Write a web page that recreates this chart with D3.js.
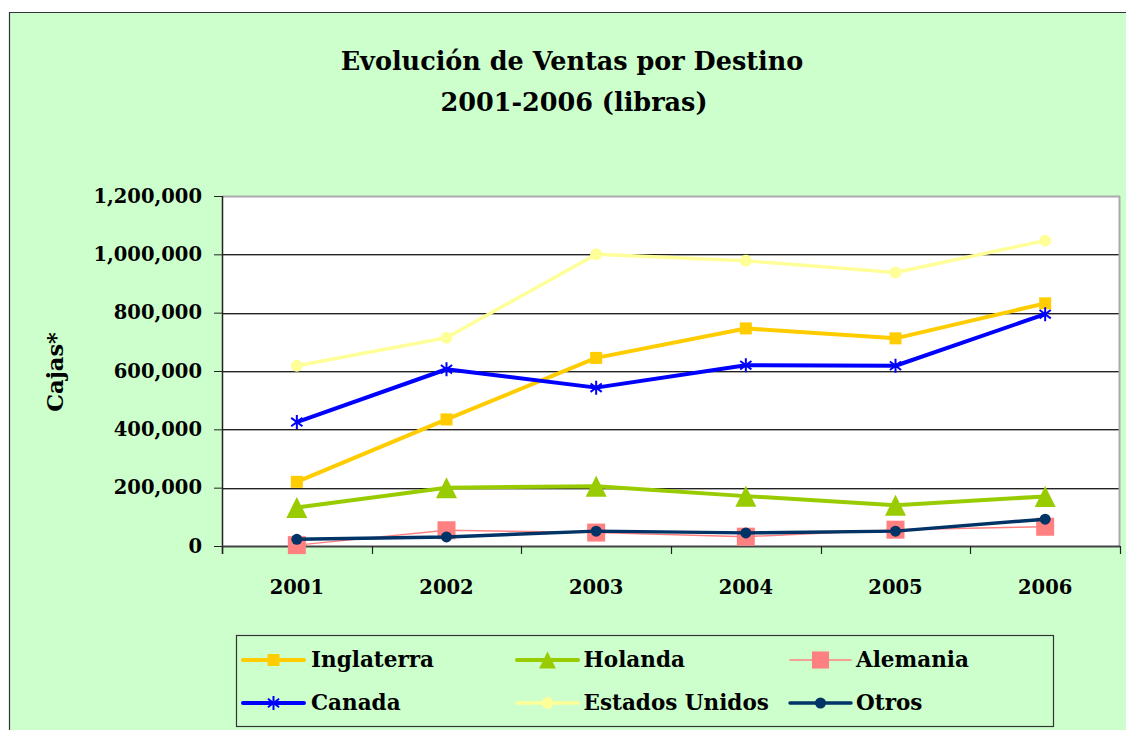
<!DOCTYPE html>
<html><head><meta charset="utf-8">
<script src="https://cdn.jsdelivr.net/npm/d3@7"></script>
<style>
html,body{margin:0;padding:0;background:#fff;overflow:hidden;}
svg{display:block;}
text{font-family:"DejaVu Serif",serif;font-weight:bold;fill:#000;}
</style></head>
<body>
<svg id="chart" width="1126" height="730"></svg>
<script>
const years = ["2001","2002","2003","2004","2005","2006"];
const yTicks = [0,200000,400000,600000,800000,1000000,1200000];
const seriesNames = ["Inglaterra","Holanda","Alemania","Canada","Estados Unidos","Otros"];
const inglaterra = [220000,434000,645000,746000,712000,832000];
const holanda = [132000,200000,205000,171000,140000,170000];
const alemania = [3000,54000,46000,32000,56000,66000];
const canada = [425000,606000,543000,620000,618000,795000];
const estadosUnidos = [618000,714000,1000000,978000,938000,1047000];
const otros = [23000,31000,51000,45000,51000,92000];
const titleLines = ["Evolución de Ventas por Destino","2001-2006 (libras)"];

const series = [
  {name:seriesNames[0], values:inglaterra, color:"#FFCC00", width:4, marker:"square", size:12, mcolor:"#FFCC00"},
  {name:seriesNames[1], values:holanda, color:"#99CC00", width:4, marker:"triangle", size:21, mcolor:"#99CC00"},
  {name:seriesNames[2], values:alemania, color:"#FF8080", width:1.5, marker:"square", size:18, mcolor:"#FF8080"},
  {name:seriesNames[3], values:canada, color:"#0000FF", width:4, marker:"asterisk", size:14, mcolor:"#0000FF"},
  {name:seriesNames[4], values:estadosUnidos, color:"#FFFF99", width:3.5, marker:"circle", size:12, mcolor:"#FFFF99"},
  {name:seriesNames[5], values:otros, color:"#003366", width:3.5, marker:"circle", size:11, mcolor:"#003366"}
];

const svg = d3.select("#chart");
// outer chart area (border only visible on top and left)
svg.append("rect").attr("x",9.5).attr("y",12.5).attr("width",1126).attr("height",730).attr("fill","#CCFFCC");
svg.append("path").attr("d","M9.5,730V12.5H1126").attr("fill","none").attr("stroke","#333").attr("stroke-width",1.2);

const L=222, R=1120, T=196, B=546;
const x = d3.scaleBand().domain(years).range([L,R]).padding(0);
const y = d3.scaleLinear().domain([0,1200000]).range([B,T]);
const cx = d => x(d)+x.bandwidth()/2;

// plot area
svg.append("rect").attr("x",L).attr("y",T).attr("width",R-L).attr("height",B-T).attr("fill","#fff");
// gridlines
const g = svg.append("g");
yTicks.filter(v=>v>0 && v<1200000).forEach(v=>{
  g.append("line").attr("x1",L).attr("x2",R).attr("y1",Math.round(y(v))+0.5).attr("y2",Math.round(y(v))+0.5).attr("stroke","#222").attr("stroke-width",1);
  g.append("line").attr("x1",L).attr("x2",R).attr("y1",Math.round(y(v))+1.5).attr("y2",Math.round(y(v))+1.5).attr("stroke","#aaa").attr("stroke-width",1);
});
// top and right borders
g.append("line").attr("x1",L).attr("x2",R).attr("y1",T+0.5).attr("y2",T+0.5).attr("stroke","#aaa").attr("stroke-width",2);
g.append("line").attr("x1",R-0.5).attr("x2",R-0.5).attr("y1",T).attr("y2",B).attr("stroke","#aaa").attr("stroke-width",2);

// axes
const yAxis = d3.axisLeft(y).tickValues(yTicks).tickFormat(d3.format(",")).tickSize(8).tickPadding(12);
const ya = svg.append("g").attr("transform",`translate(${L},0)`).call(yAxis);
ya.select(".domain").attr("stroke","#222").attr("stroke-width",1.5).attr("d",`M0.5,${T}V${B+8}`);
ya.selectAll(".tick line").attr("stroke","#222");
ya.selectAll("text").style("font-size","19.5px").attr("fill","#000").attr("font-family",null);

const xAxis = d3.axisBottom(x).tickSize(0).tickPadding(34);
const xa = svg.append("g").attr("transform",`translate(0,${B})`).call(xAxis);
xa.select(".domain").attr("stroke","#444").attr("stroke-width",2).attr("d",`M${L},0.5H${R}`);
xa.selectAll("text").style("font-size","19.5px").attr("fill","#000");
// x ticks at band boundaries
years.concat(["end"]).forEach((d,i)=>{
  const xx = i<years.length ? x(d) : R;
  svg.append("line").attr("x1",Math.round(xx)+0.5).attr("x2",Math.round(xx)+0.5).attr("y1",B).attr("y2",B+8).attr("stroke","#222").attr("stroke-width",1.2);
});

// axis title
svg.append("text").attr("transform","translate(63,372) rotate(-90)").attr("text-anchor","middle")
  .style("font-size","22.5px").text("Cajas*");

// title
svg.append("text").attr("x",572).attr("y",70).attr("text-anchor","middle").style("font-size","25.5px").text(titleLines[0]);
svg.append("text").attr("x",574).attr("y",111).attr("text-anchor","middle").style("font-size","25.5px").text(titleLines[1]);

function drawMarker(sel, s, px, py, scale){
  const sz = s.size*(scale||1);
  if(s.marker==="square"){
    sel.append("rect").attr("x",px-sz/2).attr("y",py-sz/2).attr("width",sz).attr("height",sz).attr("fill",s.mcolor);
  } else if(s.marker==="triangle"){
    const h=sz;
    sel.append("path").attr("d",`M${px},${py-h/2}L${px+sz/2},${py+h/2}L${px-sz/2},${py+h/2}Z`).attr("fill",s.mcolor);
  } else if(s.marker==="circle"){
    sel.append("circle").attr("cx",px).attr("cy",py).attr("r",sz/2).attr("fill",s.mcolor);
  } else if(s.marker==="asterisk"){
    const a=sz/2, w=a*0.8;
    sel.append("path").attr("d",`M${px},${py-a}V${py+a}M${px-w},${py-a*0.6}L${px+w},${py+a*0.6}M${px-w},${py+a*0.6}L${px+w},${py-a*0.6}`)
      .attr("stroke",s.mcolor).attr("stroke-width",2).attr("fill","none");
  }
}

const line = d3.line().x((d,i)=>cx(years[i])).y(d=>y(d));
series.forEach(s=>{
  const sg = svg.append("g");
  sg.append("path").attr("d",line(s.values)).attr("fill","none").attr("stroke",s.color).attr("stroke-width",s.width).attr("stroke-linejoin","round");
  s.values.forEach((v,i)=>drawMarker(sg,s,cx(years[i]),y(v)));
});

// legend
svg.append("rect").attr("x",236.5).attr("y",635.5).attr("width",817).attr("height",91).attr("fill","none").attr("stroke","#333").attr("stroke-width",1.2);
const colLine=[243,517,790], colText=[311,583.5,856], rowY=[660,703];
series.forEach((s,i)=>{
  const c=i%3, r=Math.floor(i/3);
  const lg=svg.append("g");
  lg.append("line").attr("x1",colLine[c]).attr("x2",colLine[c]+61).attr("y1",rowY[r]).attr("y2",rowY[r]).attr("stroke",s.color).attr("stroke-width",Math.max(s.width,1.5)).attr("stroke-linecap","round");
  drawMarker(lg,s,colLine[c]+30.5,rowY[r], s.marker==="triangle"?0.8:(s.marker==="square"&&s.size>15?0.95:1));
  lg.append("text").attr("x",colText[c]).attr("y",rowY[r]+7).style("font-size","21.5px").text(s.name);
});
</script>
</body></html>
